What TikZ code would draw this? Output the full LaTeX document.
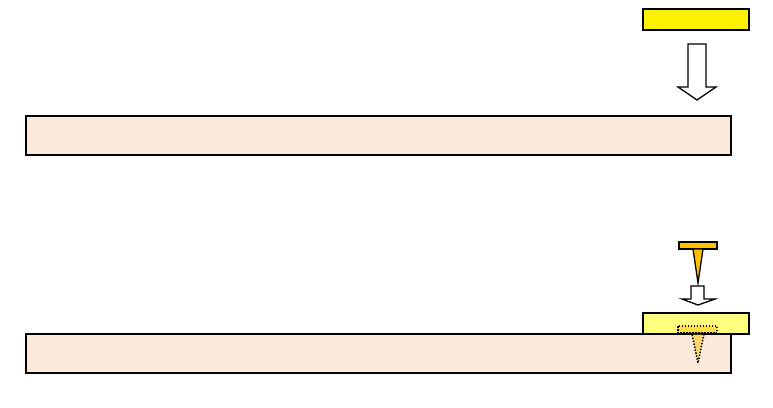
\documentclass[tikz,border=0pt]{standalone}
\usepackage[dvipsnames]{xcolor}
\usetikzlibrary{shapes,calc,fit}
\definecolor{boardfill}{HTML}{FCE9DA}
\definecolor{padfill}{HTML}{FFFF80}
\definecolor{toolfill}{HTML}{FFC000}
\begin{document}
\begin{tikzpicture}[x=1pt,y=-1pt,line width=1.8pt,line join=miter,
    board/.style={draw,fill=boardfill},
    pad/.style={draw,fill=yellow},
    blockarrow/.style={draw,fill=white,line width=1.3pt}]
            \useasboundingbox (0,0) rectangle (773,407);

            % top: pad above the board
            \draw[pad] (643,9) rectangle (749,30);
            \draw[blockarrow] (688,44) -- (706,44) -- (706,87) -- (716,87) -- (697,100)
              -- (678,87) -- (688,87) -- cycle;
            \draw[board] (26,116) rectangle (731,155);

            % bottom: pad on the board, pressed by the tool
            \draw[board] (26,334) rectangle (731,373);
            \draw[pad,fill=padfill] (643,313) rectangle (749,334);
            \draw[fill=toolfill,line width=1.5pt] (679,242) rectangle (717,249);
            \draw[fill=toolfill,line width=1.3pt] (693,249) -- (703,249) -- (698,283) -- cycle;
            \draw[blockarrow] (691,286) -- (704,286) -- (704,299) -- (715,299) -- (698,305)
              -- (682,299) -- (691,299) -- cycle;
            \draw[line width=1.5pt,dash pattern=on 1.5pt off 1.5pt,fill=toolfill,fill opacity=0.5] (678,326) rectangle (717,333);
            \draw[line width=1.5pt,dash pattern=on 1.5pt off 1.5pt,fill=toolfill,fill opacity=0.5] (692,334) -- (704,334) -- (698,363) -- cycle;
        \end{tikzpicture}
\end{document}
